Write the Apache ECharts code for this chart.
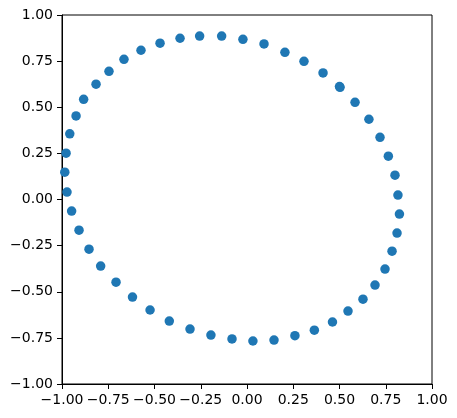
<!DOCTYPE html>
<html>
<head>
<meta charset="utf-8">
<script src="https://cdn.jsdelivr.net/npm/echarts@6/dist/echarts.min.js"></script>
<style>
  html, body { margin: 0; padding: 0; background: #fff; }
  #chart { width: 457px; height: 418px; }
</style>
</head>
<body>
<div id="chart"></div>
<script>
// points, going round the ring
const xs = [
  0.503, 0.500, 0.411, 0.308, 0.205, 0.092, -0.022, -0.137, -0.256, -0.362,
  -0.470, -0.573, -0.665, -0.746, -0.816, -0.883, -0.924, -0.958, -0.978, -0.985,
  -0.973, -0.948, -0.908, -0.854, -0.791, -0.708, -0.619, -0.524, -0.420, -0.308,
  -0.195, -0.081, 0.032, 0.146, 0.259, 0.364, 0.462, 0.546, 0.627, 0.692,
  0.746, 0.784, 0.811, 0.824, 0.816, 0.800, 0.764, 0.719, 0.659, 0.584
];
const ys = [
  0.608, 0.612, 0.686, 0.749, 0.798, 0.843, 0.868, 0.886, 0.886, 0.874,
  0.847, 0.809, 0.760, 0.695, 0.625, 0.543, 0.453, 0.356, 0.251, 0.148,
  0.040, -0.063, -0.166, -0.269, -0.361, -0.448, -0.529, -0.599, -0.659, -0.702,
  -0.735, -0.756, -0.767, -0.762, -0.738, -0.708, -0.664, -0.605, -0.540, -0.464,
  -0.377, -0.280, -0.182, -0.079, 0.024, 0.132, 0.235, 0.337, 0.435, 0.527
];
const axisMin = -1;
const axisMax = 1;
const tickStep = 0.25;

const chart = echarts.init(document.getElementById('chart'));

const fmt = v => (v < 0 ? '\u2212' : '') + Math.abs(v).toFixed(2);

const axisCommon = {
  type: 'value',
  min: axisMin,
  max: axisMax,
  interval: tickStep,
  splitLine: { show: false },
  axisLine: { show: true, onZero: false, lineStyle: { color: '#000', width: 1 } },
  axisTick: { show: true, inside: false, length: 5, lineStyle: { color: '#000', width: 1 } },
  axisLabel: {
    color: '#000',
    fontFamily: 'DejaVu Sans',
    fontSize: 14,
    margin: 9,
    formatter: fmt,
    showMinLabel: true,
    showMaxLabel: true
  }
};

chart.setOption({
  animation: false,
  grid: {
    left: 62, right: 25, top: 15, bottom: 34,
    show: true, borderColor: '#000', borderWidth: 1, backgroundColor: 'transparent'
  },
  xAxis: Object.assign({}, axisCommon),
  yAxis: Object.assign({}, axisCommon),
  series: [{
    type: 'scatter',
    symbol: 'circle',
    symbolSize: 9.5,
    itemStyle: { color: '#1f77b4', opacity: 1 },
    data: xs.map((x, i) => [x, ys[i]])
  }]
});
</script>
</body>
</html>
